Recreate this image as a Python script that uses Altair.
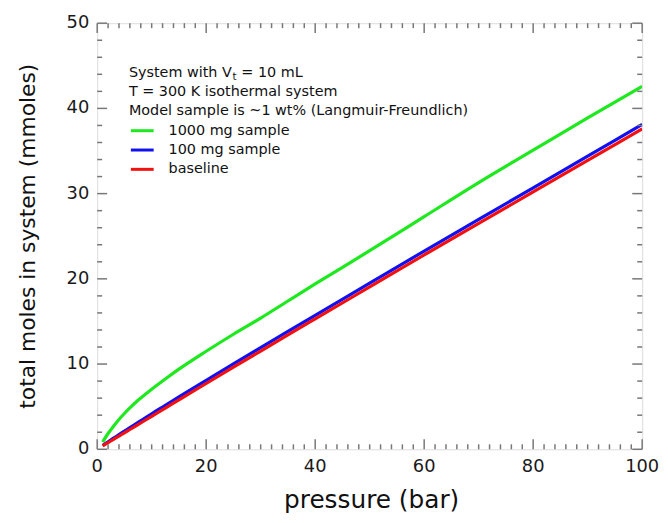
import altair as alt
import pandas as pd

# ---- data ----
pressure = [1, 2, 3, 4, 5, 6, 7.5, 10, 12.5, 15, 20, 25, 30, 35, 40, 50, 60, 70, 80, 90, 100]
moles_1000mg = [0.85, 1.85, 2.7, 3.5, 4.2, 4.85, 5.75, 7.05, 8.25, 9.4, 11.5, 13.5, 15.4, 17.4,
                19.4, 23.3, 27.3, 31.3, 35.1, 38.9, 42.6]
moles_100mg = [0.44, 0.88, 1.3, 1.72, 2.13, 2.54, 3.15, 4.17, 5.15, 6.14, 8.08, 10.01, 11.93,
               13.83, 15.72, 19.49, 23.26, 26.97, 30.68, 34.4, 38.12]
moles_baseline = [0.39, 0.78, 1.16, 1.55, 1.93, 2.32, 2.9, 3.87, 4.83, 5.8, 7.72, 9.63, 11.53,
                  13.42, 15.3, 19.05, 22.8, 26.5, 30.2, 33.9, 37.6]

series_names = ["1000 mg sample", "100 mg sample", "baseline"]
series_colors = ["#1ee81e", "#1010f2", "#f21010"]

header_lines = ["System with V", "T = 300 K isothermal system",
                "Model sample is ~1 wt% (Langmuir-Freundlich)"]

x_title = "pressure (bar)"
y_title = "total moles in system (mmoles)"

x_major = [0, 20, 40, 60, 80, 100]
x_minor = [v for v in range(0, 101, 2) if v % 20 != 0]
y_major = [0, 10, 20, 30, 40, 50]
y_minor = [v for v in range(0, 51, 2) if v % 10 != 0]

W, H = 550, 430
FONT = "DejaVu Sans"

xs = alt.Scale(domain=[0, 100], nice=False, zero=False)
ys = alt.Scale(domain=[0, 50], nice=False, zero=False)

def series_layer(values, name):
    df = pd.DataFrame({"pressure": pressure, "moles": values, "series": name})
    return alt.Chart(df).mark_line(strokeWidth=3.2, clip=True, interpolate="monotone").encode(
        x=alt.X("pressure:Q", scale=xs, axis=None),
        y=alt.Y("moles:Q", scale=ys, axis=None),
        color=alt.Color("series:N", scale=alt.Scale(domain=series_names, range=series_colors),
                        legend=None),
    )

layers = [
    series_layer(moles_1000mg, series_names[0]),
    series_layer(moles_100mg, series_names[1]),
    series_layer(moles_baseline, series_names[2]),
]

# ---- inward ticks on all four sides ----
tick_color = "#777"
def xticks(vals, length):
    df = pd.DataFrame({"v": vals})
    bottom = alt.Chart(df).mark_rule(color=tick_color, strokeWidth=1.5).encode(
        x=alt.X("v:Q", scale=xs, axis=None), y=alt.value(H), y2=alt.value(H - length))
    top = alt.Chart(df).mark_rule(color=tick_color, strokeWidth=1.5).encode(
        x=alt.X("v:Q", scale=xs, axis=None), y=alt.value(0), y2=alt.value(length))
    return [bottom, top]

def yticks(vals, length):
    df = pd.DataFrame({"v": vals})
    left = alt.Chart(df).mark_rule(color=tick_color, strokeWidth=1.5).encode(
        y=alt.Y("v:Q", scale=ys, axis=None), x=alt.value(0), x2=alt.value(length))
    right = alt.Chart(df).mark_rule(color=tick_color, strokeWidth=1.5).encode(
        y=alt.Y("v:Q", scale=ys, axis=None), x=alt.value(W), x2=alt.value(W - length))
    return [left, right]

tick_layers = xticks(x_major, 10) + xticks(x_minor, 5) + yticks(y_major, 10) + yticks(y_minor, 5)

# ---- tick labels and axis titles ----
lab = dict(font=FONT, fontSize=18, color="#1a1a1a")
xlabels = alt.Chart(pd.DataFrame({"v": x_major})).mark_text(
    align="center", baseline="middle", **lab).encode(
    x=alt.X("v:Q", scale=xs, axis=None), y=alt.value(H + 18), text="v:Q")
ylabels = alt.Chart(pd.DataFrame({"v": y_major})).mark_text(
    align="right", baseline="middle", **lab).encode(
    y=alt.Y("v:Q", scale=ys, axis=None), x=alt.value(-8), text="v:Q")
xtitle = alt.Chart(pd.DataFrame({"t": [x_title]})).mark_text(
    align="center", baseline="alphabetic", font=FONT, fontSize=25, color="#111").encode(
    x=alt.value(277), y=alt.value(H + 59), text="t:N")
ytitle = alt.Chart(pd.DataFrame({"t": [y_title]})).mark_text(
    align="center", baseline="middle", angle=270, font=FONT, fontSize=22, color="#111").encode(
    x=alt.value(-70), y=alt.value(H / 2), text="t:N")
axis_layers = [xlabels, ylabels, xtitle, ytitle]

# ---- in-plot legend ----
TX = 32
FS = 14.5
row_y = [50, 69.5, 89, 108.5, 128, 147.5]
txt = dict(align="left", baseline="middle", font=FONT, fontSize=FS, color="#111")

legend_layers = []
hdr0 = pd.DataFrame({"t": [header_lines[0]]})
legend_layers.append(alt.Chart(hdr0).mark_text(**txt).encode(
    x=alt.value(TX), y=alt.value(row_y[0]), text="t:N"))
legend_layers.append(alt.Chart(pd.DataFrame({"t": ["t"]})).mark_text(
    align="left", baseline="middle", font=FONT, fontSize=10.5, color="#111").encode(
    x=alt.value(TX + 104.5), y=alt.value(row_y[0] + 4), text="t:N"))
legend_layers.append(alt.Chart(pd.DataFrame({"t": ["= 10 mL"]})).mark_text(**txt).encode(
    x=alt.value(TX + 113.5), y=alt.value(row_y[0]), text="t:N"))
for i in (1, 2):
    legend_layers.append(alt.Chart(pd.DataFrame({"t": [header_lines[i]]})).mark_text(**txt).encode(
        x=alt.value(TX), y=alt.value(row_y[i]), text="t:N"))
for i, (name, col) in enumerate(zip(series_names, series_colors)):
    d = pd.DataFrame({"t": [name]})
    legend_layers.append(alt.Chart(d).mark_rule(color=col, strokeWidth=3).encode(
        x=alt.value(TX + 2), x2=alt.value(TX + 25), y=alt.value(row_y[3 + i])))
    legend_layers.append(alt.Chart(d).mark_text(**txt).encode(
        x=alt.value(TX + 40), y=alt.value(row_y[3 + i]), text="t:N"))

chart = alt.layer(*layers, *tick_layers, *axis_layers, *legend_layers).properties(
    width=W, height=H,
    autosize=alt.AutoSizeParams(type="none"),
    padding={"left": 90, "top": 13, "right": 18, "bottom": 64},
).configure_view(stroke="#666", strokeWidth=1.5).configure(background="white")

chart.save("out.html", embed_options={"renderer": "svg", "actions": False})
